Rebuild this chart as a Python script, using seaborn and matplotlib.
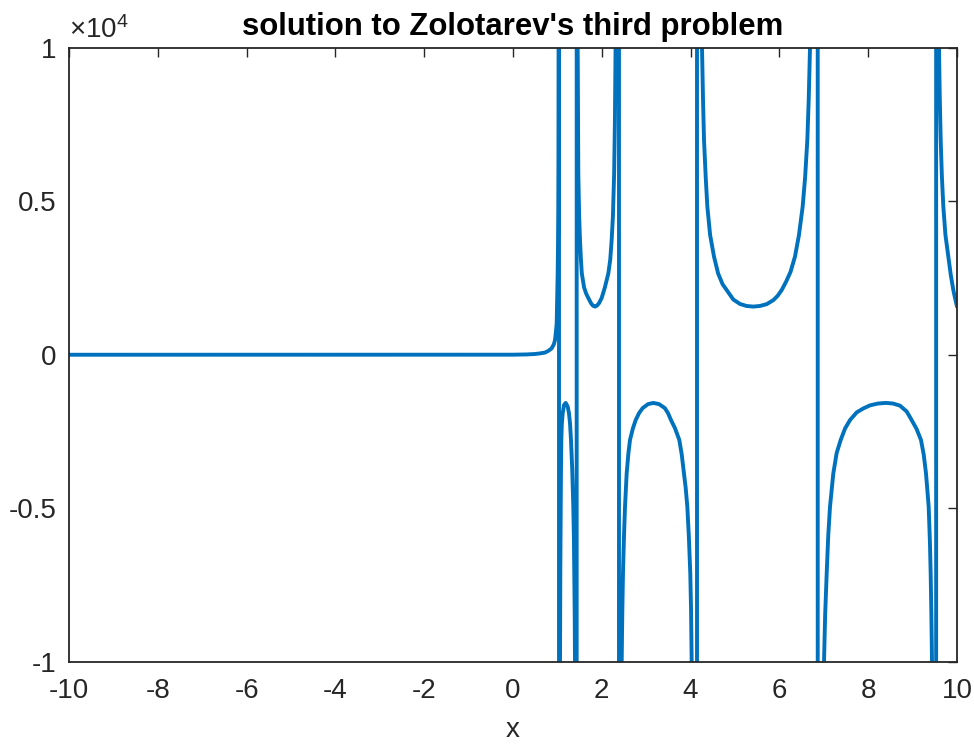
import numpy as np
import pandas as pd
import matplotlib
matplotlib.use("Agg")
import matplotlib.pyplot as plt
from matplotlib.ticker import FuncFormatter, FixedLocator
import seaborn as sns

# --- data: r(x) on [-10, 10], one list per branch between poles ---
b0_x = [-10, -6, -2, 0, 0.3, 0.5, 0.61, 0.72, 0.8, 0.87, 0.92, 0.946, 0.965, 0.984,
        0.996, 1.006, 1.014, 1.02, 1.024, 1.027]
b0_y = [0, 0, 0, 2, 10, 25, 45, 70, 130, 208, 340, 480, 720, 1020,
        1900, 2650, 3600, 4830, 6600, 10000]

b1_x = [1.059, 1.066, 1.074, 1.08, 1.088, 1.10, 1.119, 1.149, 1.187, 1.232, 1.261,
        1.285, 1.306, 1.333, 1.358, 1.372, 1.381, 1.39, 1.396]
b1_y = [-10000, -7000, -4950, -3800, -2780, -2250, -1910, -1640, -1570, -1690, -1910,
        -2250, -2780, -3700, -4950, -6000, -7130, -8500, -10000]

b2_x = [1.457, 1.464, 1.471, 1.49, 1.509, 1.53, 1.55, 1.60, 1.646, 1.696, 1.757, 1.80,
        1.847, 1.89, 1.937, 1.997, 2.07, 2.147, 2.19, 2.222, 2.25, 2.278, 2.295, 2.31]
b2_y = [10000, 7600, 5910, 4500, 3740, 3100, 2650, 2200, 2000, 1850, 1680, 1600,
        1570, 1600, 1680, 1850, 2200, 2650, 3100, 3740, 4500, 5910, 7600, 10000]

b3_x = [2.448, 2.462, 2.477, 2.50, 2.523, 2.56, 2.60, 2.635, 2.70, 2.763, 2.84, 2.92,
        3.04, 3.16, 3.29, 3.42, 3.49, 3.559, 3.65, 3.70, 3.746, 3.80, 3.851, 3.89,
        3.926, 3.96, 3.993, 4.01, 4.024]
b3_y = [-10000, -8400, -7130, -5900, -4950, -3870, -3200, -2780, -2400, -2130, -1900,
        -1740, -1610, -1570, -1610, -1740, -1900, -2130, -2400, -2600, -2780, -3250,
        -3870, -4350, -4950, -5900, -7130, -8300, -10000]

b4_x = [4.257, 4.28, 4.302, 4.34, 4.377, 4.44, 4.527, 4.62, 4.72, 4.813, 4.962, 5.113,
        5.26, 5.412, 5.56, 5.714, 5.863, 5.96, 6.052, 6.15, 6.25, 6.351, 6.44, 6.524,
        6.58, 6.629, 6.66, 6.689]
b4_y = [10000, 8300, 7000, 5800, 4830, 3900, 3200, 2650, 2300, 2110, 1800, 1655,
        1590, 1570, 1590, 1650, 1780, 1920, 2110, 2380, 2700, 3200, 3900, 4830,
        5800, 7000, 8300, 10000]

b5_x = [7.005, 7.03, 7.065, 7.10, 7.14, 7.214, 7.29, 7.38, 7.48, 7.59, 7.74, 7.89,
        8.041, 8.22, 8.401, 8.56, 8.716, 8.867, 8.979, 9.09, 9.189, 9.25, 9.302,
        9.335, 9.362, 9.39, 9.407, 9.422, 9.437]
b5_y = [-10000, -8500, -7130, -5900, -4950, -3870, -3200, -2780, -2400, -2130, -1880,
        -1750, -1650, -1590, -1570, -1590, -1660, -1850, -2130, -2420, -2780, -3250,
        -3870, -4450, -4950, -6100, -7130, -8400, -10000]

b6_x = [9.595, 9.612, 9.633, 9.66, 9.692, 9.74, 9.804, 9.86, 9.917, 9.96, 10]
b6_y = [10000, 8400, 7000, 5800, 4830, 3900, 3200, 2600, 2110, 1820, 1570]

# poles and the sign of r just left of each one
pole_x = [1.036, 1.434, 2.387, 4.144, 6.863, 9.530]
pole_left_sign = [1, -1, 1, -1, 1, -1]
pole_peak = 1e5  # |r| at the samples straddling a pole

x_ticks = [-10, -8, -6, -4, -2, 0, 2, 4, 6, 8, 10]
y_ticks = [-10000, -5000, 0, 5000, 10000]

# --- join the branches into one sampled curve, crossing each pole ---
branches = [(b0_x, b0_y), (b1_x, b1_y), (b2_x, b2_y), (b3_x, b3_y),
            (b4_x, b4_y), (b5_x, b5_y), (b6_x, b6_y)]
xs, ys = [], []
for i, (bx, by) in enumerate(branches):
    xs += bx
    ys += by
    if i < len(pole_x):
        s = pole_left_sign[i]
        xs += [pole_x[i], pole_x[i]]
        ys += [s * pole_peak, -s * pole_peak]
df = pd.DataFrame({"x": xs, "r": ys})

# --- styling ---
sns.set_style("white")
plt.rcParams["font.family"] = ["Liberation Sans", "DejaVu Sans"]
plt.rcParams["axes.unicode_minus"] = False
plt.rcParams["mathtext.fontset"] = "custom"
plt.rcParams["mathtext.rm"] = "Liberation Sans"

axis_col = "#262626"
fig = plt.figure(figsize=(9.74, 7.45), dpi=100)
ax = fig.add_axes([69 / 974, 1 - 661.5 / 745, 888 / 974, 613.5 / 745])

sns.lineplot(data=df, x="x", y="r", sort=False, estimator=None,
             color="#0072BD", linewidth=2.8, ax=ax)

ax.set_xlim(-10, 10)
ax.set_ylim(-10000, 10000)
ax.xaxis.set_major_locator(FixedLocator(x_ticks))
ax.yaxis.set_major_locator(FixedLocator(y_ticks))
ax.xaxis.set_major_formatter(FuncFormatter(lambda v, p: f"{v:g}"))
ax.yaxis.set_major_formatter(FuncFormatter(lambda v, p: f"{v / 1e4:g}"))

for sp in ax.spines.values():
    sp.set_visible(True)
    sp.set_color(axis_col)
    sp.set_linewidth(1.3)
ax.tick_params(direction="in", length=6.5, width=1.0, color=axis_col,
               top=True, right=True, labelsize=20, labelcolor=axis_col)
ax.tick_params(axis="x", pad=12)
ax.tick_params(axis="y", pad=9)

ax.set_xlabel("x", fontsize=20, color=axis_col, labelpad=9)
ax.set_ylabel("")
ax.set_title("solution to Zolotarev's third problem", fontsize=22.4,
             fontweight="bold", color="black", pad=9)
ax.text(0.0, 1.006, r"$\mathregular{\times10^{4}}$", transform=ax.transAxes,
        ha="left", va="bottom", fontsize=20, color=axis_col)

fig.savefig("out.png", dpi=100, facecolor="white")
